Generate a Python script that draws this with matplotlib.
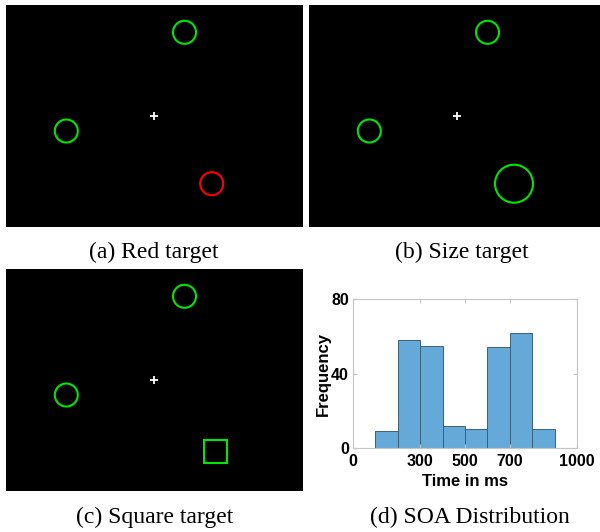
import matplotlib
matplotlib.use("Agg")
import matplotlib.pyplot as plt
from matplotlib.patches import Circle, Rectangle

# stimulus layout (pixel units inside each panel, y downwards)
distractor_x = [178.5, 60.3]
distractor_y = [27.3, 126.0]
fixation_xy = (147.5, 110.7)
red_target_xy = (205.7, 178.7)
size_target_xy = (205.0, 178.7)
square_target_xy = (209.0, 182.0)

# SOA histogram
bin_left = [100, 200, 300, 400, 500, 600, 700, 800]
counts = [9, 58, 55, 12, 10, 54, 62, 10]
x_ticks = [0, 300, 500, 700, 1000]
y_ticks = [0, 40, 80]

captions = ["(a) Red target", "(b) Size target", "(c) Square target", "(d) SOA Distribution"]

W, H = 600, 532
fig = plt.figure(figsize=(W / 100, H / 100), dpi=100)
fig.patch.set_facecolor("white")

green = "#00e600"
circle_r = 11.5


def px_axes(x0, y0, w, h):
    # axes from pixel box (top-left origin)
    return fig.add_axes([x0 / W, (H - y0 - h) / H, w / W, h / H])


def stim_panel(x0, y0, w, h):
    ax = px_axes(x0, y0, w, h)
    ax.set_facecolor("black")
    ax.set_xlim(0, w)
    ax.set_ylim(h, 0)
    ax.set_xticks([])
    ax.set_yticks([])
    for s in ax.spines.values():
        s.set_visible(False)
    for x, y in zip(distractor_x, distractor_y):
        ax.add_patch(Circle((x, y), circle_r, fill=False, ec=green, lw=1.5))
    ax.plot(*fixation_xy, marker="+", color="white", ms=6, mew=1.3)
    return ax


ax_a = stim_panel(6, 5, 297, 222)
ax_a.add_patch(Circle(red_target_xy, circle_r, fill=False, ec="#ff0000", lw=1.5))

ax_b = stim_panel(309, 5, 291, 222)
ax_b.add_patch(Circle(size_target_xy, 19, fill=False, ec=green, lw=1.5))

ax_c = stim_panel(6, 269, 297, 222)
side = 23
ax_c.add_patch(Rectangle((square_target_xy[0] - side / 2, square_target_xy[1] - side / 2),
                         side, side, fill=False, ec=green, lw=1.5))

# histogram
ax_d = px_axes(353, 299, 224, 149)
ax_d.bar(bin_left, counts, width=100, align="edge",
         color="#64a9d8", edgecolor="#3d5f78", linewidth=0.7)
ax_d.set_xlim(0, 1000)
ax_d.set_ylim(0, 80)
ax_d.set_xticks(x_ticks)
ax_d.set_yticks(y_ticks)
for s in ax_d.spines.values():
    s.set_color("#c4c4c4")
    s.set_linewidth(0.8)
ax_d.tick_params(direction="in", length=3, color="#c4c4c4", top=True, right=True,
                 labelsize=11.5)
ax_d.tick_params(axis="x", pad=4)
ax_d.tick_params(axis="y", pad=3)
for lab in ax_d.get_xticklabels() + ax_d.get_yticklabels():
    lab.set_fontfamily("Liberation Sans")
    lab.set_fontweight("bold")
ax_d.set_xlabel("Time in ms", family="Liberation Sans", weight="bold", fontsize=12, labelpad=4)
ax_d.set_ylabel("Frequency", family="Liberation Sans", weight="bold", fontsize=12, labelpad=0)

# captions
cap_pos = [(154, 252), (462, 252), (155, 517), (470, 517)]
for txt, (cx, cy) in zip(captions, cap_pos):
    fig.text(cx / W, 1 - cy / H, txt, ha="center", va="center",
             family="Liberation Serif", fontsize=17)

fig.savefig("out.png", dpi=100)
